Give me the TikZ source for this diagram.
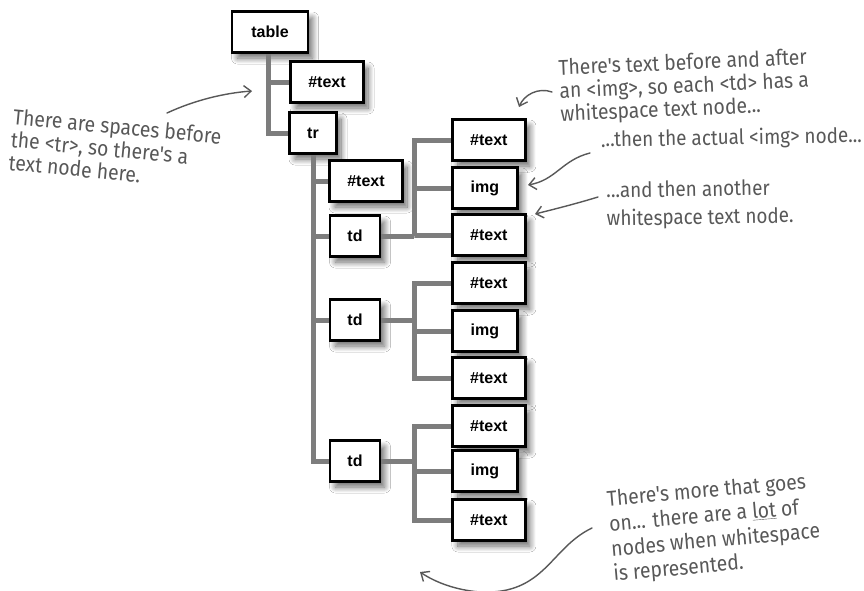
\documentclass[tikz,border=0pt]{standalone}
\usepackage{fontspec}
\setmainfont{Liberation Sans}
\newfontfamily\hand[FakeStretch=0.9]{Fira Sans}
\usetikzlibrary{shadows.blur,arrows.meta}
\definecolor{conngray}{HTML}{7D7D7D}
\definecolor{inkgray}{HTML}{585858}
\tikzset{
  box/.style={draw=black, line width=1.8pt, fill=white, inner sep=0pt,
    minimum height=40pt, font=\bfseries\fontsize{16}{18}\selectfont,
    blur shadow={shadow xshift=5pt, shadow yshift=-6pt, shadow blur steps=12, shadow opacity=60, shadow blur radius=6pt}},
  wtext/.style={box, minimum width=72pt},
  wimg/.style={box, minimum width=64pt},
  wtd/.style={box, minimum width=49pt},
  conn/.style={draw=conngray, line width=5pt},
  note/.style={text=inkgray, font=\hand\fontsize{21.5}{23}\selectfont, align=left, inner sep=0pt},
  notearrow/.style={draw=inkgray, line width=1.4pt, line cap=round, -{Straight Barb[length=7pt,width=12pt,line width=1.4pt]}}
}
\begin{document}
\begin{tikzpicture}[x=1pt,y=-1pt]
\useasboundingbox[fill=white] (0,0) rectangle (864,590);
% tree nodes
\node[box, minimum width=75pt] (table) at (270,32) {table};
\node[wtext] (t1) at (327,82) {\#text};
\node[box, minimum width=46pt] (tr) at (313,133) {tr};
\node[wtext] (t2) at (366,181) {\#text};
\node[wtd] (td1) at (355,236) {td};
\node[wtd] (td2) at (355,320) {td};
\node[wtd] (td3) at (355,461) {td};
\node[wtext, anchor=west] (c11) at (452,140) {\#text};
\node[wimg, anchor=west] (c12) at (452,188) {img};
\node[wtext, anchor=west] (c13) at (452,235) {\#text};
\node[wtext, anchor=west] (c21) at (452,283) {\#text};
\node[wimg, anchor=west] (c22) at (452,331) {img};
\node[wtext, anchor=west] (c23) at (452,378) {\#text};
\node[wtext, anchor=west] (c31) at (452,426) {\#text};
\node[wimg, anchor=west] (c32) at (452,471) {img};
\node[wtext, anchor=west] (c33) at (452,520) {\#text};
% connectors
\draw[conn] ([xshift=-2pt]table.south) |- (t1.west);
\draw[conn] ([xshift=-2pt]table.south) |- (tr.west);
\draw[conn] (tr.south) |- (t2.west);
\draw[conn] (tr.south) |- (td1.west);
\draw[conn] (tr.south) |- (td2.west);
\draw[conn] (tr.south) |- (td3.west);
\foreach \t/\a/\b/\c in {td1/c11/c12/c13, td2/c21/c22/c23, td3/c31/c32/c33}{
  \draw[conn] (\t.east) -- ++(34,0);
  \draw[conn] (\t.east) ++(34,0) |- (\a.west);
  \draw[conn] (\t.east) ++(34,0) |- (\b.west);
  \draw[conn] (\t.east) ++(34,0) |- (\c.west);
}
% box borders on top of connectors
\foreach \n in {table,t1,tr,t2,td1,td2,td3,c11,c12,c13,c21,c22,c23,c31,c32,c33}{
  \draw[draw=black, line width=1.8pt] (\n.north west) rectangle (\n.south east);
}
% notes
\node[note, anchor=north west, rotate=-5.5] (n1) at (14,108)
  {There are spaces before\\the <tr>, so there's a\\text node here.};
\node[note, anchor=north west, rotate=2.5] (n2) at (558,59)
  {There's text before and after\\an <img>, so each <td> has a\\whitespace text node...};
\node[note, anchor=base west, rotate=1, font=\hand\fontsize{21}{23}\selectfont] (n3) at (601,147)
  {...then the actual <img> node...};
\node[note, anchor=north west, rotate=1, font=\hand\fontsize{21}{28}\selectfont] (n4) at (606,182)
  {...and then another\\whitespace text node.};
\node[note, anchor=north west, rotate=5, font=\hand\fontsize{21.5}{25}\selectfont] (n5) at (606,490)
  {There's more that goes\\on... there are a \underline{lot} of\\nodes when whitespace\\is represented.};
% note arrows
\coordinate (a1s) at (167,113); \coordinate (a1e) at (252,91);
\coordinate (a2s) at (552,92);  \coordinate (a2e) at (519,107);
\coordinate (a3s) at (590,153); \coordinate (a3e) at (528,185);
\coordinate (a4s) at (598,197); \coordinate (a4e) at (535,214);
\coordinate (a5s) at (592,528); \coordinate (a5e) at (420,572);
\draw[notearrow] (a1s) .. controls (195,100) and (225,93) .. (a1e);
\draw[notearrow] (a2s) .. controls (538,87) and (524,95) .. (a2e);
\draw[notearrow] (a3s) .. controls (562,160) and (556,180) .. (a3e);
\draw[notearrow] (a4s) .. controls (575,204) and (555,209) .. (a4e);
\draw[notearrow] (a5s) .. controls (550,548) and (545,595) .. (480,592) .. controls (455,590) and (435,582) .. (a5e);
\end{tikzpicture}
\end{document}
